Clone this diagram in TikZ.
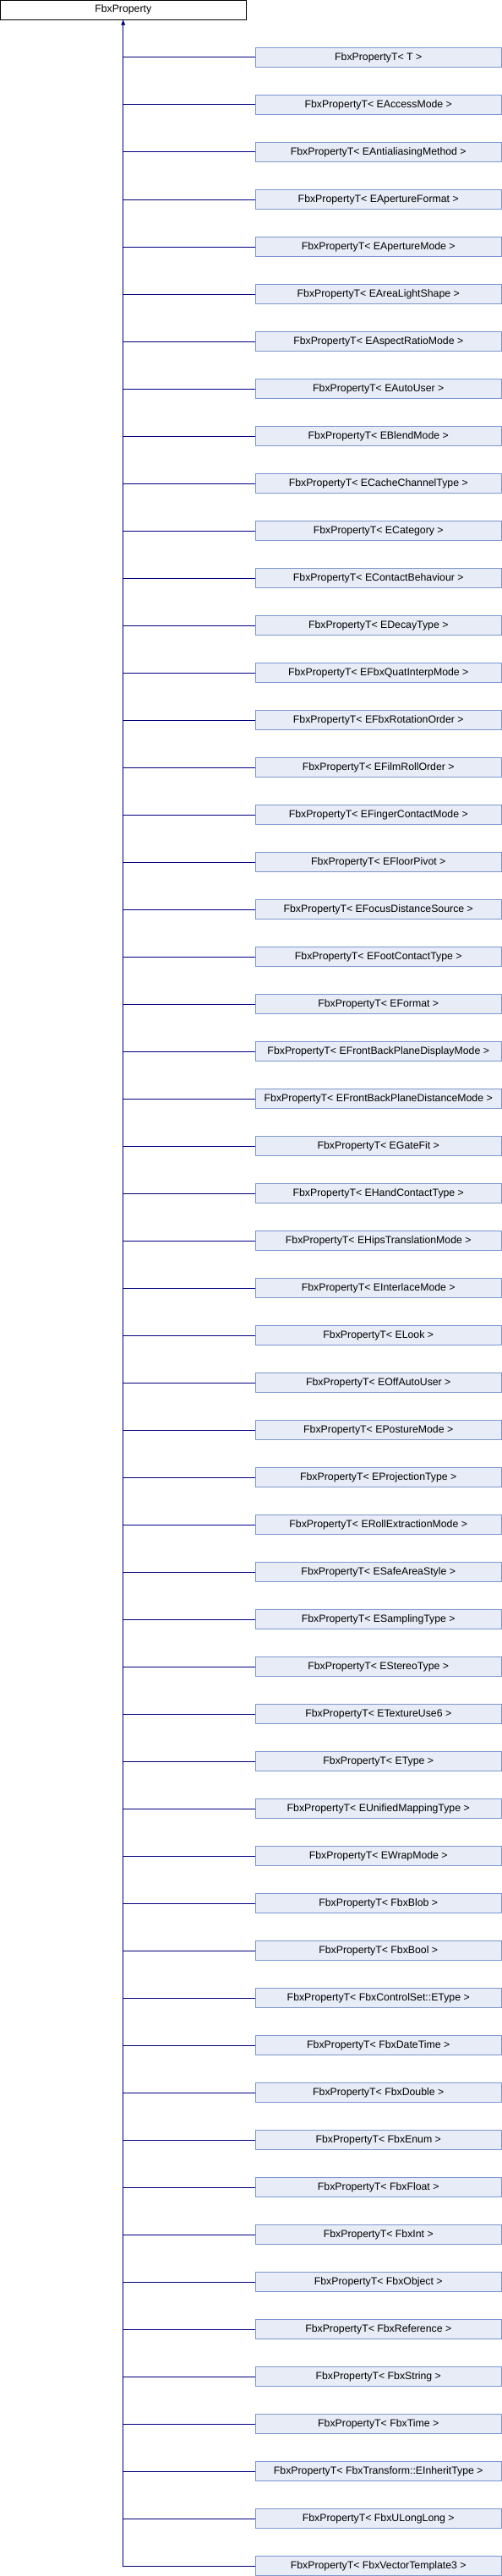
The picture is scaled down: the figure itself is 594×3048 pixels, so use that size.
\documentclass[tikz,border=0pt]{standalone}
\usepackage{fontspec}
\setmainfont{Liberation Sans}
\usetikzlibrary{arrows.meta}

\definecolor{edgeblue}{HTML}{000080}
\definecolor{boxfill}{HTML}{E8ECF6}
\definecolor{boxline}{HTML}{7B97CE}

\tikzset{
  basebox/.style={draw=black, line width=1pt, fill=white, minimum width=291pt,
    minimum height=23pt, inner sep=0pt, font=\fontsize{12.3}{14}\selectfont},
  derivedbox/.style={draw=boxline, line width=1pt, fill=boxfill, minimum width=291pt,
    minimum height=23pt, inner sep=0pt, font=\fontsize{12.3}{14}\selectfont},
  edge/.style={draw=edgeblue, line width=1pt}
}

\begin{document}
\begin{tikzpicture}[x=1pt,y=-1pt]
        \useasboundingbox (0,0) rectangle (594,3048);
        \node[basebox] (base) at (145.75,11.75) {FbxProperty};
        % one box per template instance
        \foreach \t [count=\i from 0] in {T, EAccessMode, EAntialiasingMethod, EApertureFormat,
            EApertureMode, EAreaLightShape, EAspectRatioMode, EAutoUser, EBlendMode,
            ECacheChannelType, ECategory, EContactBehaviour, EDecayType, EFbxQuatInterpMode,
            EFbxRotationOrder, EFilmRollOrder, EFingerContactMode, EFloorPivot,
            EFocusDistanceSource, EFootContactType, EFormat, EFrontBackPlaneDisplayMode,
            EFrontBackPlaneDistanceMode, EGateFit, EHandContactType, EHipsTranslationMode,
            EInterlaceMode, ELook, EOffAutoUser, EPostureMode, EProjectionType,
            ERollExtractionMode, ESafeAreaStyle, ESamplingType, EStereoType, ETextureUse6,
            EType, EUnifiedMappingType, EWrapMode, FbxBlob, FbxBool, FbxControlSet::EType,
            FbxDateTime, FbxDouble, FbxEnum, FbxFloat, FbxInt, FbxObject, FbxReference,
            FbxString, FbxTime, FbxTransform::EInheritType, FbxULongLong, FbxVectorTemplate3}
        {
            \node[derivedbox] (d\i) at (447.75,{56*(\i+1)+12}) {FbxPropertyT<~\t~>};
            \draw[edge] (d\i.west) -| (base.south);
        }
        \draw[edge,-{Triangle[width=5pt,length=6pt]}] (base.south |- d0.west) -- (base.south);
    \end{tikzpicture}
\end{document}
